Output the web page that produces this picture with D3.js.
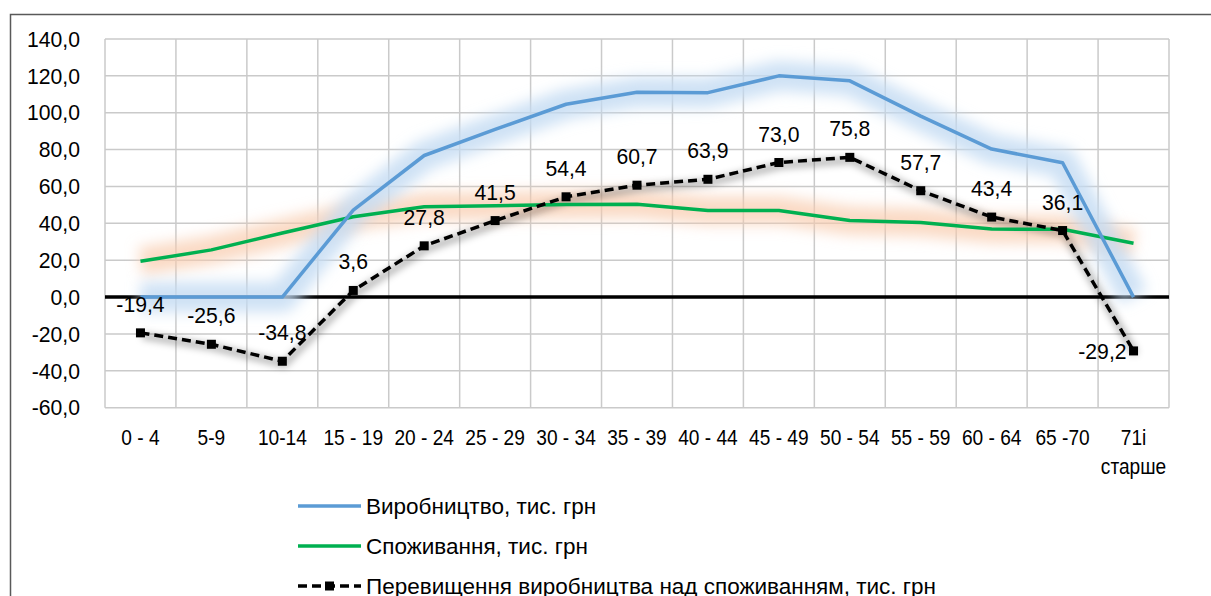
<!DOCTYPE html>
<html>
<head>
<meta charset="utf-8">
<script src="https://cdn.jsdelivr.net/npm/d3@7"></script>
<style>
  html, body { margin: 0; padding: 0; background: #fff; }
  svg text { font-family: "Liberation Sans", Arial, sans-serif; fill: #000; }
</style>
</head>
<body>
<svg id="chart" width="1211" height="596"></svg>
<script>
const categories = ["0 - 4","5-9","10-14","15 - 19","20 - 24","25 - 29","30 - 34","35 - 39","40 - 44","45 - 49","50 - 54","55 - 59","60 - 64","65 -70","71і|старше"];
const production = [0, 0, 0, 47.2, 76.8, 91.0, 104.6, 111.1, 110.9, 120.0, 117.3, 98.2, 80.3, 72.9, 0];
const consumption = [19.4, 25.6, 34.8, 43.6, 49.0, 49.5, 50.2, 50.4, 47.0, 47.0, 41.5, 40.5, 36.9, 36.8, 29.2];
const excess = [-19.4, -25.6, -34.8, 3.6, 27.8, 41.5, 54.4, 60.7, 63.9, 73.0, 75.8, 57.7, 43.4, 36.1, -29.2];
const yTicks = [-60, -40, -20, 0, 20, 40, 60, 80, 100, 120, 140];
const seriesNames = ["Виробництво, тис. грн", "Споживання, тис. грн", "Перевищення виробництва над споживанням, тис. грн"];

const svg = d3.select("#chart");
const pLeft = 105, pRight = 1169, pTop = 39, pBottom = 407.7;
const x = d3.scaleBand().domain(categories).range([pLeft, pRight]);
const y = d3.scaleLinear().domain([-60, 140]).range([pBottom, pTop]);
const cx = (i) => x(categories[i]) + x.bandwidth() / 2;
const fmt = v => d3.format(".1f")(v).replace(".", ",").replace("−", "-");

const defs = svg.append("defs");
defs.append("filter").attr("id", "glow").attr("x", "-20%").attr("y", "-80%").attr("width", "140%").attr("height", "260%")
  .append("feGaussianBlur").attr("stdDeviation", 7);
const sh = defs.append("filter").attr("id", "shadow").attr("x", "-20%").attr("y", "-60%").attr("width", "140%").attr("height", "220%");
sh.append("feGaussianBlur").attr("stdDeviation", 3.5);

// outer frame
svg.append("rect").attr("x", 10.5).attr("y", 14.5).attr("width", 1230).attr("height", 620)
  .attr("fill", "none").attr("stroke", "#595959").attr("stroke-width", 1.5);

// gridlines
const grid = svg.append("g");
grid.selectAll("line.h").data(yTicks).join("line")
  .attr("x1", pLeft).attr("x2", pRight).attr("y1", d => y(d)).attr("y2", d => y(d))
  .attr("stroke", "#cacaca").attr("stroke-width", 1.5);
const vb = categories.map(c => x(c)).concat([pRight]);
grid.selectAll("line.v").data(vb).join("line")
  .attr("x1", d => d).attr("x2", d => d).attr("y1", pTop).attr("y2", pBottom)
  .attr("stroke", "#cacaca").attr("stroke-width", 1.5);

// y axis labels
const yAxis = d3.axisLeft(y).tickValues(yTicks).tickFormat(fmt).tickSize(0).tickPadding(25);
const ya = svg.append("g").attr("transform", `translate(${pLeft},0)`).call(yAxis);
ya.select(".domain").remove();
ya.selectAll("text").attr("font-size", 22.5).attr("font-family", "Liberation Sans, Arial, sans-serif")
  .attr("fill", "#000").attr("data-sq", 0.94);

// x axis labels
const xl = svg.append("g");
categories.forEach((c, i) => {
  const parts = c.split("|");
  parts.forEach((p, k) => {
    xl.append("text").attr("x", cx(i)).attr("y", 445 + k * 29)
      .attr("text-anchor", "middle").attr("font-size", 22.5).attr("data-sq", 0.85).text(p);
  });
});

// zero line
svg.append("line").attr("x1", pLeft).attr("x2", pRight).attr("y1", y(0)).attr("y2", y(0))
  .attr("stroke", "#000").attr("stroke-width", 3.5);

const line = d3.line().x((d, i) => cx(i)).y(d => y(d));

// glows
svg.append("path").attr("d", line(consumption)).attr("fill", "none")
  .attr("stroke", "#f8cbad").attr("stroke-width", 28).attr("stroke-opacity", 0.7)
  .attr("stroke-linejoin", "round").attr("filter", "url(#glow)");
svg.append("path").attr("d", line(production)).attr("fill", "none")
  .attr("stroke", "#c3dbf2").attr("stroke-width", 30).attr("stroke-opacity", 0.8)
  .attr("stroke-linejoin", "round").attr("filter", "url(#glow)");
svg.append("path").attr("d", line(excess)).attr("fill", "none")
  .attr("stroke", "#000").attr("stroke-width", 7).attr("stroke-opacity", 0.28)
  .attr("transform", "translate(2,3)").attr("filter", "url(#shadow)");

// series
svg.append("path").attr("d", line(consumption)).attr("fill", "none")
  .attr("stroke", "#00b050").attr("stroke-width", 3.5).attr("stroke-linejoin", "round");
svg.append("path").attr("d", line(production)).attr("fill", "none")
  .attr("stroke", "#5b9bd5").attr("stroke-width", 3.5).attr("stroke-linejoin", "round");
svg.append("path").attr("d", line(excess)).attr("fill", "none")
  .attr("stroke", "#000").attr("stroke-width", 3.5).attr("stroke-dasharray", "9,5");
svg.selectAll("rect.mk").data(excess).join("rect").attr("class", "mk")
  .attr("x", (d, i) => cx(i) - 4.5).attr("y", d => y(d) - 4.5)
  .attr("width", 9).attr("height", 9).attr("fill", "#000");

// data labels
svg.selectAll("text.lbl").data(excess).join("text").attr("class", "lbl")
  .attr("x", (d, i) => i === excess.length - 1 ? cx(i) - 7 : cx(i))
  .attr("y", (d, i) => i === excess.length - 1 ? y(d) + 8 : y(d) - 21)
  .attr("text-anchor", (d, i) => i === excess.length - 1 ? "end" : "middle")
  .attr("font-size", 22.5).attr("data-sq", 0.94).text(d => fmt(d));

// legend
const lg = svg.append("g");
const lgY = [506, 546, 586];
const lgCol = ["#5b9bd5", "#00b050", "#000"];
seriesNames.forEach((n, k) => {
  const ln = lg.append("line").attr("x1", 298).attr("x2", 361).attr("y1", lgY[k]).attr("y2", lgY[k])
    .attr("stroke", lgCol[k]).attr("stroke-width", 3.5);
  if (k === 2) {
    ln.attr("stroke-dasharray", "9,5");
    lg.append("rect").attr("x", 325).attr("y", lgY[k] - 4.5).attr("width", 9).attr("height", 9).attr("fill", "#000");
  }
  lg.append("text").attr("x", 366).attr("y", lgY[k] + 8).attr("font-size", 22.5).attr("data-sq", 1.0).text(n);
});

// condense text to mimic the narrow font of the original
svg.selectAll("text").each(function() {
  const s = +(this.getAttribute("data-sq") || 1);
  if (s !== 1) {
    const len = this.getComputedTextLength();
    d3.select(this).attr("textLength", len * s).attr("lengthAdjust", "spacingAndGlyphs");
  }
});
</script>
</body>
</html>
